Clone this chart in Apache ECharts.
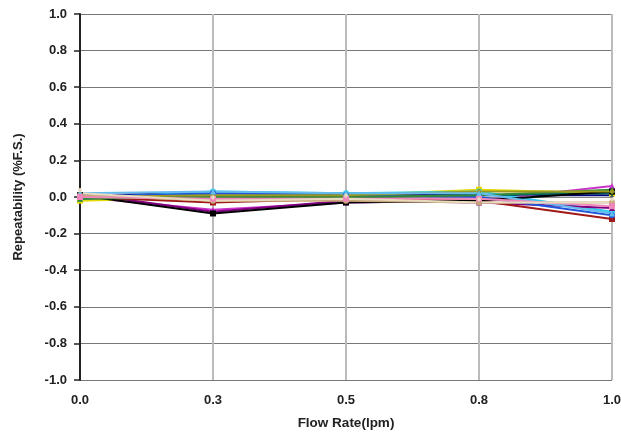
<!DOCTYPE html>
<html><head><meta charset="utf-8">
<script src="https://cdn.jsdelivr.net/npm/echarts@6/dist/echarts.min.js"></script>
<style>html,body{margin:0;padding:0;background:#fff}#c{width:621px;height:433px}</style>
</head><body><div id="c"></div>
<script>
const categories = ['0.0','0.3','0.5','0.8','1.0'];
const s1  = [0.01, 0.02, 0.02, 0.01, 0.01];
const s2  = [0.00, -0.07, -0.03, -0.02, 0.06];
const s3  = [-0.02, 0.00, 0.01, 0.04, 0.02];
const s4  = [-0.01, 0.03, 0.02, 0.03, -0.08];
const s5  = [0.02, -0.08, -0.02, -0.03, -0.06];
const s6  = [0.00, -0.03, -0.01, -0.02, -0.12];
const s7  = [-0.01, 0.01, 0.00, 0.01, 0.02];
const s8  = [0.00, 0.02, 0.01, 0.00, -0.10];
const s9  = [0.01, -0.09, -0.03, -0.02, 0.03];
const s10 = [-0.01, 0.00, 0.00, 0.01, 0.04];
const s11 = [0.00, 0.01, 0.01, 0.03, 0.03];
const s12 = [0.01, -0.02, -0.02, -0.03, -0.03];
const s13 = [0.02, 0.03, 0.02, 0.02, -0.09];
const s14 = [0.00, -0.01, -0.01, -0.01, -0.05];
const s15 = [0.02, -0.02, -0.01, -0.03, -0.03];
const seriesData = [s1,s2,s3,s4,s5,s6,s7,s8,s9,s10,s11,s12,s13,s14,s15];
const colors = ['#000080','#cc33cc','#e6d800','#33ccee','#800080','#a01818','#006060','#2255dd','#000000','#338833','#999922','#c8a878','#66bbee','#ee88bb','#e8dcc0'];
const symbols = ['diamond','triangle','rect','circle','triangle','rect','diamond','circle','rect','triangle','diamond','circle','triangle','rect','pin'];

const font = 'Liberation Sans, Arial, sans-serif';
const chart = echarts.init(document.getElementById('c'));
chart.setOption({
  animation:false,
  grid:{left:80,right:9,top:14,bottom:53,containLabel:false,outerBoundsMode:'none'},
  xAxis:{type:'category',data:categories,boundaryGap:false,
    name:'Flow Rate(lpm)',nameLocation:'middle',nameGap:36,
    nameTextStyle:{fontFamily:font,fontWeight:'bold',fontSize:13.5,color:'#222'},
    axisLine:{lineStyle:{color:'#888',width:1}},
    axisTick:{show:false},
    axisLabel:{fontFamily:font,fontWeight:'bold',fontSize:13,color:'#222',margin:14},
    splitLine:{show:true,lineStyle:{color:'#bbb',width:2}}},
  yAxis:{type:'value',min:-1,max:1,interval:0.2,
    name:'Repeatability (%F.S.)',nameLocation:'middle',nameGap:55,
    nameTextStyle:{fontFamily:font,fontWeight:'bold',fontSize:13,color:'#222'},
    axisLine:{show:true,lineStyle:{color:'#222',width:2}},
    axisTick:{show:true,length:6,lineStyle:{color:'#222',width:1.5}},
    axisLabel:{fontFamily:font,fontWeight:'bold',fontSize:13,color:'#222',margin:13,
      formatter:v=>v.toFixed(1)},
    splitLine:{lineStyle:{color:'#777',width:1}}},
  series:seriesData.map((d,i)=>({type:'line',data:d,color:colors[i],
    symbol:symbols[i],symbolSize:6,showSymbol:true,
    lineStyle:{width:2,color:colors[i]},itemStyle:{color:colors[i]}}))
});
</script></body></html>
